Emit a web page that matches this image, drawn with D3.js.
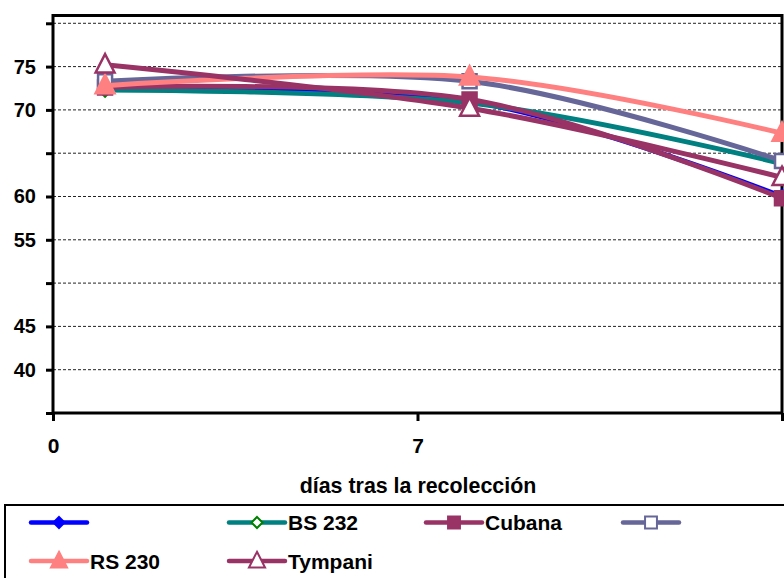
<!DOCTYPE html>
<html>
<head>
<meta charset="utf-8">
<script src="https://cdn.jsdelivr.net/npm/d3@7"></script>
<style>
  html, body { margin: 0; padding: 0; background: #fff; }
  svg { display: block; }
  text { font-family: "Liberation Sans", Arial, sans-serif; font-weight: bold; fill: #000; }
</style>
</head>
<body>
<svg id="chart" width="784" height="578"></svg>
<script>
// Days after harvest at which each sample was measured
const days = [1, 8, 14];

// Series values (one array per variety)
const seriesBlue    = [72.5, 71.0, 60.0];
const seriesBS232   = [72.3, 70.8, 63.8];
const seriesCubana  = [72.6, 71.2, 59.8];
const seriesSlate   = [73.3, 73.3, 64.1];
const seriesRS230   = [72.8, 73.8, 67.3];
const seriesTympani = [75.2, 70.2, 62.2];

// Legend names (two series carry no name)
const seriesNames = ["", "BS 232", "Cubana", "", "RS 230", "Tympani"];

// Axis ticks and their labels
const yTicks = [35, 40, 45, 50, 55, 60, 65, 70, 75, 80];
const yTickLabels = ["", "40", "45", "", "55", "60", "", "70", "75", ""];
const xTicks = [0, 7, 14];
const xTickLabels = ["0", "7", ""];
const xTitle = "días tras la recolección";

const series = [
  { name: seriesNames[0], values: seriesBlue,    color: "#0000ff", marker: "diamond",  fill: "#0000ff", stroke: "#0000ff" },
  { name: seriesNames[1], values: seriesBS232,   color: "#008080", marker: "diamond",  fill: "#ffffff", stroke: "#008000" },
  { name: seriesNames[2], values: seriesCubana,  color: "#993366", marker: "square",   fill: "#993366", stroke: "#993366" },
  { name: seriesNames[3], values: seriesSlate,   color: "#666699", marker: "square",   fill: "#ffffff", stroke: "#666699" },
  { name: seriesNames[4], values: seriesRS230,   color: "#ff8080", marker: "triangle", fill: "#ff8080", stroke: "#ff8080" },
  { name: seriesNames[5], values: seriesTympani, color: "#993366", marker: "triangle", fill: "#ffffff", stroke: "#993366" }
];

const svg = d3.select("#chart");
const plot = { left: 53, right: 782, top: 15.5, bottom: 413 };

const x = d3.scaleLinear().domain([0, 14]).range([plot.left, plot.right]);
const y = d3.scaleLinear().domain([35, 80.9]).range([plot.bottom, plot.top]);

// Dashed horizontal gridlines
svg.append("g")
  .selectAll("line")
  .data(yTicks.filter(v => v > 35))
  .join("line")
  .attr("x1", plot.left).attr("x2", plot.right)
  .attr("y1", d => y(d)).attr("y2", d => y(d))
  .attr("stroke", "#222").attr("stroke-width", 1)
  .attr("stroke-dasharray", "3,2");

// Y axis
const yAxis = d3.axisLeft(y)
  .tickValues(yTicks)
  .tickSize(7)
  .tickPadding(10)
  .tickFormat((d, i) => yTickLabels[i]);
const gy = svg.append("g").attr("transform", `translate(${plot.left},0)`).call(yAxis);
gy.select(".domain").remove();
gy.selectAll(".tick line").attr("stroke", "#000").attr("stroke-width", 3);
gy.selectAll(".tick text").style("font-size", "20px").attr("fill", "#000");

// X axis
const xAxis = d3.axisBottom(x)
  .tickValues(xTicks)
  .tickSize(8)
  .tickPadding(17)
  .tickFormat((d, i) => xTickLabels[i]);
const gx = svg.append("g").attr("transform", `translate(0,${plot.bottom})`).call(xAxis);
gx.select(".domain").remove();
gx.selectAll(".tick line").attr("stroke", "#000").attr("stroke-width", 3);
gx.selectAll(".tick text").style("font-size", "21px").attr("fill", "#000");

// Plot frame
svg.append("rect")
  .attr("x", plot.left).attr("y", plot.top)
  .attr("width", plot.right - plot.left).attr("height", plot.bottom - plot.top)
  .attr("fill", "none").attr("stroke", "#000").attr("stroke-width", 3);

// X axis title
svg.append("text")
  .attr("x", 418).attr("y", 493)
  .attr("text-anchor", "middle")
  .style("font-size", "21.4px")
  .text(xTitle);

// Marker shapes
function markerPath(kind, size) {
  const s = size / 2;
  if (kind === "diamond") return `M0,${-s}L${s},0L0,${s}L${-s},0Z`;
  if (kind === "square") return `M${-s},${-s}H${s}V${s}H${-s}Z`;
  return `M0,${-size * 0.6}L${s * 1.05},${size * 0.42}L${-s * 1.05},${size * 0.42}Z`;
}
const markerSize = { diamond: 13, square: 14, triangle: 18 };

const line = d3.line()
  .x((d, i) => x(days[i]))
  .y(d => y(d))
  .curve(d3.curveCatmullRom.alpha(0));

// Series lines with their markers
series.forEach(s => {
  const g = svg.append("g");
  g.append("path")
    .attr("d", line(s.values))
    .attr("fill", "none")
    .attr("stroke", s.color)
    .attr("stroke-width", 5)
    .attr("stroke-linejoin", "round")
    .attr("stroke-linecap", "round");
  g.selectAll("path.mk")
    .data(s.values)
    .join("path")
    .attr("class", "mk")
    .attr("transform", (d, i) => `translate(${x(days[i])},${y(d)})`)
    .attr("d", markerPath(s.marker, markerSize[s.marker]))
    .attr("fill", s.fill)
    .attr("stroke", s.stroke)
    .attr("stroke-width", 2.5);
});

// Legend
const legend = svg.append("g");
legend.append("rect")
  .attr("x", 5).attr("y", 505)
  .attr("width", 800).attr("height", 100)
  .attr("fill", "#fff").attr("stroke", "#000").attr("stroke-width", 2);

const colX = [31, 229, 426, 623];
const rowY = [522.5, 561];
series.forEach((s, i) => {
  const cx = colX[i % 4];
  const cy = rowY[Math.floor(i / 4)];
  const g = legend.append("g").attr("transform", `translate(${cx},${cy})`);
  g.append("line")
    .attr("x1", 0).attr("x2", 56).attr("y1", 0).attr("y2", 0)
    .attr("stroke", s.color).attr("stroke-width", 4.5)
    .attr("stroke-linecap", "round");
  g.append("path")
    .attr("transform", "translate(28,0)")
    .attr("d", markerPath(s.marker, markerSize[s.marker] * 0.85))
    .attr("fill", s.fill).attr("stroke", s.stroke).attr("stroke-width", 2);
  g.append("text")
    .attr("x", 59).attr("y", 0)
    .attr("dy", "0.36em")
    .style("font-size", "21px")
    .text(s.name);
});
</script>
</body>
</html>
